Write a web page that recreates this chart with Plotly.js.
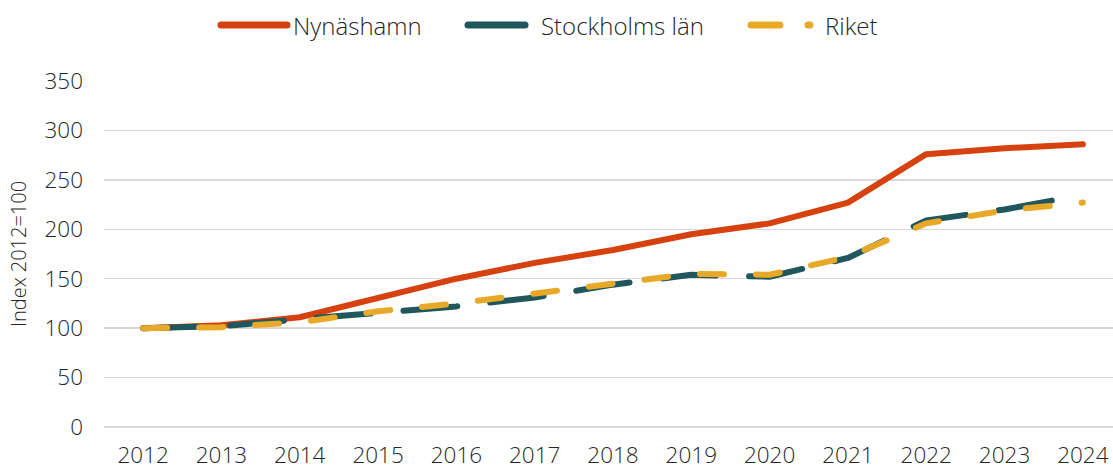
<!DOCTYPE html>
<html>
<head>
<meta charset="utf-8">
<script src="https://cdn.plot.ly/plotly-3.0.1.min.js"></script>
<style>
html,body{margin:0;padding:0;background:#fff;overflow:hidden;}
#wrap{width:1113px;height:468px;overflow:hidden;}
#chart{width:1122px;height:468px;}
</style>
</head>
<body>
<div id="wrap"><div id="chart"></div></div>
<script>
const years = ["2012","2013","2014","2015","2016","2017","2018","2019","2020","2021","2022","2023","2024"];
const nynashamn = [100,103,111,131,150,166,179,195,206,227,276,282,286];
const stockholm = [100,102,109,116,122,131,144,154,152,171,209,220,235];
const riket     = [100,101,106,117,125,135,146,155,154,172,206,219,227];
const names = ["Nynäshamn","Stockholms län","Riket"];
const colors = ["#D5420F","#1F575D","#E7A927"];

const FONT = "'Open Sans', 'Noto Sans', sans-serif";
const TXT = "#262626";
const W = 1122, L = 104, T = 81, PH = 346;
const px2x = p => (p - L) / (W - L);
const py2y = p => (T + PH - p) / PH;

const traces = [
  {x: years, y: nynashamn, name: names[0], mode: "lines",
   line: {color: colors[0], width: 6}},
  {x: years, y: stockholm, name: names[1], mode: "lines",
   line: {color: colors[1], width: 6, dash: "54px,33px"}},
  {x: years, y: riket, name: names[2], mode: "lines",
   line: {color: colors[2], width: 6, dash: "24px,32px"}}
];

// custom legend
const legY = py2y(25);
const legItems = [
  {x0: 221, x1: 287, tx: 291, dash: "solid"},
  {x0: 468, x1: 525, tx: 539, dash: "solid"},
  {x0: 751, x1: 810, tx: 823, dash: "29px,28px"}
];
const shapes = legItems.map((it, i) => ({
  type: "line", xref: "paper", yref: "paper",
  x0: px2x(it.x0), x1: px2x(it.x1), y0: legY, y1: legY,
  line: {color: colors[i], width: 7, dash: it.dash}
}));
const annotations = legItems.map((it, i) => ({
  xref: "paper", yref: "paper", x: px2x(it.tx), y: legY,
  xanchor: "left", yanchor: "middle", showarrow: false,
  text: names[i], font: {family: FONT, size: 24, color: TXT, weight: 300}
}));

const layout = {
  width: W, height: 468,
  margin: {l: L, r: 0, t: T, b: 468 - T - PH},
  paper_bgcolor: "#fff", plot_bgcolor: "#fff",
  showlegend: false,
  xaxis: {type: "category", range: [-0.5, 12.5], showgrid: false, zeroline: false,
          showline: false, ticks: "", fixedrange: true, ticklabelstandoff: 12,
          tickfont: {family: FONT, size: 22.5, color: TXT, weight: 300}},
  yaxis: {range: [0, 350], dtick: 50, tick0: 0, showgrid: true, gridcolor: "#d9d9d9",
          gridwidth: 1.5, zeroline: true, zerolinecolor: "#d9d9d9", zerolinewidth: 1.5,
          showline: false, ticks: "", ticklabelstandoff: 20,
          tickfont: {family: FONT, size: 22.5, color: TXT, weight: 300},
          title: {text: "Index 2012=100", standoff: 12,
                  font: {family: FONT, size: 20, color: TXT, weight: 300}}},
  shapes: shapes,
  annotations: annotations
};

Plotly.newPlot("chart", traces, layout, {staticPlot: true, displayModeBar: false}).then(gd => {
  gd.querySelectorAll(".scatterlayer path.js-line, .shapelayer path").forEach(p => {
    p.style.strokeLinecap = "round";
    p.style.strokeLinejoin = "round";
  });
});
</script>
</body>
</html>
